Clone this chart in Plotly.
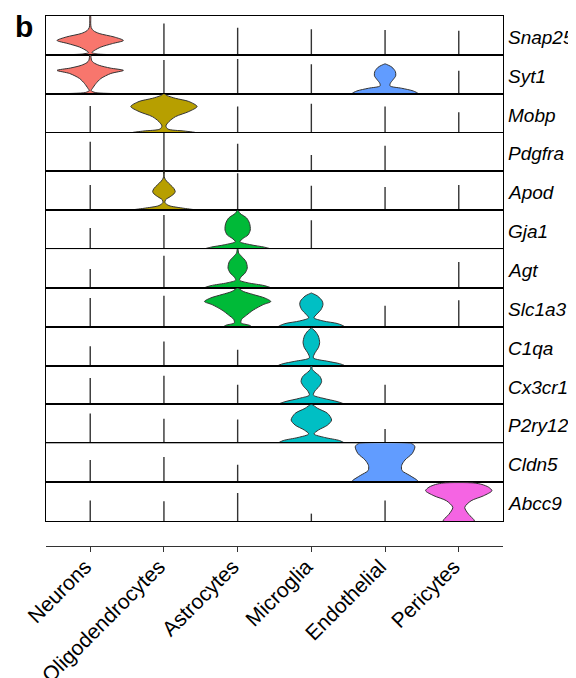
import plotly.graph_objects as go

# ---------------- data ----------------
genes = ["Snap25", "Syt1", "Mobp", "Pdgfra", "Apod", "Gja1", "Agt",
         "Slc1a3", "C1qa", "Cx3cr1", "P2ry12", "Cldn5", "Abcc9"]
cell_types = ["Neurons", "Oligodendrocytes", "Astrocytes", "Microglia",
              "Endothelial", "Pericytes"]
cell_colors = ["#F8766D", "#B79F00", "#00BA38", "#00BFC4", "#619CFF", "#F564E3"]

# height of thin (mostly-zero) violins, fraction of row maximum; None = full violin
tail_snap25 = [None, 0.81, 0.70, 0.66, 0.64, 0.62]
tail_syt1 = [None, 0.87, 0.89, 0.76, None, 0.59]
tail_mobp = [0.68, None, 0.67, 0.74, 0.67, 0.52]
tail_pdgfra = [0.76, 1.00, 0.71, 0.42, 0.66, 0.0]
tail_apod = [0.65, None, 0.95, 0.63, 0.60, 0.65]
tail_gja1 = [0.54, 0.88, None, 0.74, 0.0, 0.0]
tail_agt = [0.49, 0.83, None, 0.0, 0.0, 0.67]
tail_slc1a3 = [0.74, 0.80, None, None, 0.54, 0.68]
tail_c1qa = [0.50, 0.62, 0.41, None, 0.0, 0.0]
tail_cx3cr1 = [0.68, 0.74, 0.51, None, 0.51, 0.0]
tail_p2ry12 = [0.77, 0.63, 0.61, None, 0.37, 0.0]
tail_cldn5 = [0.57, 0.65, 0.45, 0.0, None, 0.0]
tail_abcc9 = [0.53, 0.51, 0.72, 0.19, 0.53, None]
tails = [tail_snap25, tail_syt1, tail_mobp, tail_pdgfra, tail_apod, tail_gja1,
         tail_agt, tail_slc1a3, tail_c1qa, tail_cx3cr1, tail_p2ry12, tail_cldn5,
         tail_abcc9]

# violin density profiles: level (fraction of row max) and relative width
snap25_neurons_h = [0, 0.02, 0.06, 0.11, 0.2, 0.29, 0.37, 0.46, 0.55, 0.62, 0.7, 0.8, 1.0]
snap25_neurons_w = [0.9, 0.25, 0.05, 0.12, 0.32, 0.67, 1.0, 0.72, 0.27, 0.1, 0.03, 0.015, 0.01]
syt1_neurons_h = [0, 0.03, 0.08, 0.14, 0.26, 0.39, 0.52, 0.6, 0.66, 0.73, 0.8, 0.86, 1.0]
syt1_neurons_w = [0.8, 0.15, 0.03, 0.07, 0.17, 0.32, 0.62, 1.0, 0.6, 0.27, 0.1, 0.04, 0.01]
syt1_endo_h = [0, 0.07, 0.14, 0.2, 0.27, 0.36, 0.46, 0.57, 0.68, 0.73, 0.77]
syt1_endo_w = [1.0, 0.85, 0.5, 0.15, 0.16, 0.24, 0.32, 0.31, 0.21, 0.11, 0.0]
mobp_oligo_h = [0, 0.04, 0.09, 0.17, 0.28, 0.41, 0.54, 0.67, 0.8, 0.88, 0.95, 1.0]
mobp_oligo_w = [0.95, 0.6, 0.12, 0.06, 0.15, 0.35, 0.75, 1.0, 0.75, 0.35, 0.1, 0.01]
apod_oligo_h = [0, 0.05, 0.12, 0.2, 0.27, 0.35, 0.42, 0.48, 0.56, 0.65, 0.75, 0.83, 0.9, 1.0]
apod_oligo_w = [1.0, 0.6, 0.15, 0.03, 0.05, 0.19, 0.3, 0.34, 0.3, 0.2, 0.08, 0.02, 0.01, 0.01]
gja1_astro_h = [0, 0.05, 0.11, 0.19, 0.28, 0.36, 0.49, 0.66, 0.8, 0.92, 1.0]
gja1_astro_w = [1.0, 0.8, 0.4, 0.07, 0.17, 0.31, 0.38, 0.36, 0.27, 0.07, 0.01]
agt_astro_h = [0, 0.06, 0.13, 0.2, 0.28, 0.38, 0.51, 0.68, 0.81, 0.9, 1.0]
agt_astro_w = [1.0, 0.8, 0.32, 0.06, 0.1, 0.22, 0.29, 0.25, 0.12, 0.03, 0.01]
slc1a3_astro_h = [0, 0.04, 0.1, 0.19, 0.3, 0.43, 0.57, 0.65, 0.74, 0.83, 0.91, 1.0]
slc1a3_astro_w = [0.42, 0.35, 0.1, 0.12, 0.27, 0.47, 0.77, 1.0, 0.82, 0.47, 0.17, 0.01]
slc1a3_micro_h = [0, 0.08, 0.15, 0.23, 0.33, 0.44, 0.57, 0.66, 0.79, 0.84, 0.87]
slc1a3_micro_w = [1.0, 0.8, 0.35, 0.08, 0.17, 0.29, 0.35, 0.33, 0.19, 0.08, 0.0]
c1qa_micro_h = [0, 0.05, 0.11, 0.2, 0.33, 0.46, 0.59, 0.76, 0.89, 0.97]
c1qa_micro_w = [1.0, 0.85, 0.5, 0.06, 0.11, 0.21, 0.25, 0.21, 0.11, 0.0]
cx3cr1_micro_h = [0, 0.07, 0.16, 0.24, 0.35, 0.46, 0.59, 0.72, 0.83, 0.9, 1.0]
cx3cr1_micro_w = [1.0, 0.8, 0.35, 0.06, 0.11, 0.23, 0.31, 0.26, 0.11, 0.03, 0.01]
p2ry12_micro_h = [0, 0.07, 0.15, 0.24, 0.34, 0.47, 0.6, 0.77, 0.9, 1.0]
p2ry12_micro_w = [1.0, 0.85, 0.4, 0.08, 0.21, 0.49, 0.61, 0.49, 0.19, 0.02]
cldn5_endo_h = [0, 0.04, 0.17, 0.3, 0.43, 0.57, 0.74, 0.91, 0.97, 1.0]
cldn5_endo_w = [1.0, 0.98, 0.75, 0.51, 0.5, 0.6, 0.82, 0.9, 0.85, 0.77]
abcc9_peri_h = [0, 0.04, 0.17, 0.35, 0.52, 0.65, 0.78, 0.87, 0.94, 0.98]
abcc9_peri_w = [0.47, 0.45, 0.3, 0.18, 0.37, 0.75, 1.0, 0.9, 0.7, 0.45]

violins = [
    ("Snap25", "Neurons", snap25_neurons_h, snap25_neurons_w),
    ("Syt1", "Neurons", syt1_neurons_h, syt1_neurons_w),
    ("Syt1", "Endothelial", syt1_endo_h, syt1_endo_w),
    ("Mobp", "Oligodendrocytes", mobp_oligo_h, mobp_oligo_w),
    ("Apod", "Oligodendrocytes", apod_oligo_h, apod_oligo_w),
    ("Gja1", "Astrocytes", gja1_astro_h, gja1_astro_w),
    ("Agt", "Astrocytes", agt_astro_h, agt_astro_w),
    ("Slc1a3", "Astrocytes", slc1a3_astro_h, slc1a3_astro_w),
    ("Slc1a3", "Microglia", slc1a3_micro_h, slc1a3_micro_w),
    ("C1qa", "Microglia", c1qa_micro_h, c1qa_micro_w),
    ("Cx3cr1", "Microglia", cx3cr1_micro_h, cx3cr1_micro_w),
    ("P2ry12", "Microglia", p2ry12_micro_h, p2ry12_micro_w),
    ("Cldn5", "Endothelial", cldn5_endo_h, cldn5_endo_w),
    ("Abcc9", "Pericytes", abcc9_peri_h, abcc9_peri_w),
]

# ---------------- figure ----------------
# page body has an 8px default margin, so the figure is offset by 8px
W, H = 568, 670
ML, MR, MT, MB = 38, 73, 8, 132
plot_h = H - MT - MB
panel_bottom = 25 / plot_h
n = len(genes)
row_h = (1 - panel_bottom) / n
half_w = 0.45
xr = [0.4, len(cell_types) + 0.6]
font_fam = "Liberation Sans, Arial, Helvetica, sans-serif"
outline = "#333333"

fig = go.Figure()
layout = dict(width=W, height=H, margin=dict(l=ML, r=MR, t=MT, b=MB),
              paper_bgcolor="white", plot_bgcolor="white", showlegend=False,
              font=dict(family=font_fam, color="black"))
annotations = []

for i, g in enumerate(genes):
    k = i + 1
    xa = "x" if k == 1 else f"x{k}"
    ya = "y" if k == 1 else f"y{k}"
    top = 1 - i * row_h
    bot = top - row_h
    layout["xaxis" if k == 1 else f"xaxis{k}"] = dict(
        domain=[0, 1], anchor=ya, range=xr, showticklabels=False, ticks="",
        showgrid=False, zeroline=False, showline=True, mirror=True,
        linecolor="black", linewidth=1.3, fixedrange=True, automargin=False)
    layout["yaxis" if k == 1 else f"yaxis{k}"] = dict(
        domain=[bot, top], anchor=xa, range=[0, 1], showticklabels=False,
        ticks="", showgrid=False, zeroline=False, showline=True, mirror=True,
        linecolor="black", linewidth=1.3, fixedrange=True, automargin=False)
    # thin violins as vertical lines
    lx, ly = [], []
    for j, t in enumerate(tails[i]):
        if t is not None and t > 0:
            lx += [j + 1, j + 1, None]
            ly += [0, t, None]
    if lx:
        fig.add_trace(go.Scatter(x=lx, y=ly, mode="lines", xaxis=xa, yaxis=ya,
                                 line=dict(color=outline, width=1.4),
                                 hoverinfo="skip"))
    annotations.append(dict(xref="paper", yref="paper", x=1, y=(top + bot) / 2,
                            xanchor="left", yanchor="middle", xshift=3, yshift=-2,
                            text=f"<i>{g}</i>", showarrow=False,
                            font=dict(size=19, family=font_fam, color="black")))

for g, ct, hs, ws in violins:
    k = genes.index(g) + 1
    j = cell_types.index(ct)
    c = j + 1
    xa = "x" if k == 1 else f"x{k}"
    ya = "y" if k == 1 else f"y{k}"
    px = [c + half_w * w for w in ws] + [c - half_w * w for w in ws[::-1]]
    py = list(hs) + list(hs[::-1])
    px.append(px[0]); py.append(py[0])
    fig.add_trace(go.Scatter(x=px, y=py, mode="lines", fill="toself",
                             fillcolor=cell_colors[j], xaxis=xa, yaxis=ya,
                             line=dict(color=outline, width=1, shape="spline",
                                       smoothing=0.8),
                             hoverinfo="skip"))

# bottom category axis
layout["xaxis14"] = dict(domain=[0, 1], anchor="y14", range=xr,
                         tickmode="array", tickvals=list(range(1, len(cell_types) + 1)),
                         ticktext=cell_types, tickangle=-45, ticks="outside",
                         ticklen=5, tickwidth=1.2, tickcolor="#333333",
                         showline=True, linecolor="#333333", linewidth=1.3,
                         showgrid=False, zeroline=False, automargin=False,
                         ticklabelstandoff=-6, ticklabelshift=-5,
                         tickfont=dict(size=21, family=font_fam, color="black"))
layout["yaxis14"] = dict(domain=[0, 0.001], anchor="x14", visible=False,
                         range=[0, 1], automargin=False)
fig.add_trace(go.Scatter(x=list(range(1, len(cell_types) + 1)),
                         y=[0.5] * len(cell_types), mode="markers",
                         marker=dict(opacity=0), xaxis="x14", yaxis="y14",
                         hoverinfo="skip"))

annotations.append(dict(xref="paper", yref="paper", x=-0.072, y=1.016,
                        xanchor="left", yanchor="top", text="<b>b</b>",
                        showarrow=False,
                        font=dict(size=30, family=font_fam, color="black")))
layout["annotations"] = annotations
fig.update_layout(**layout)
fig.write_html("out.html")
